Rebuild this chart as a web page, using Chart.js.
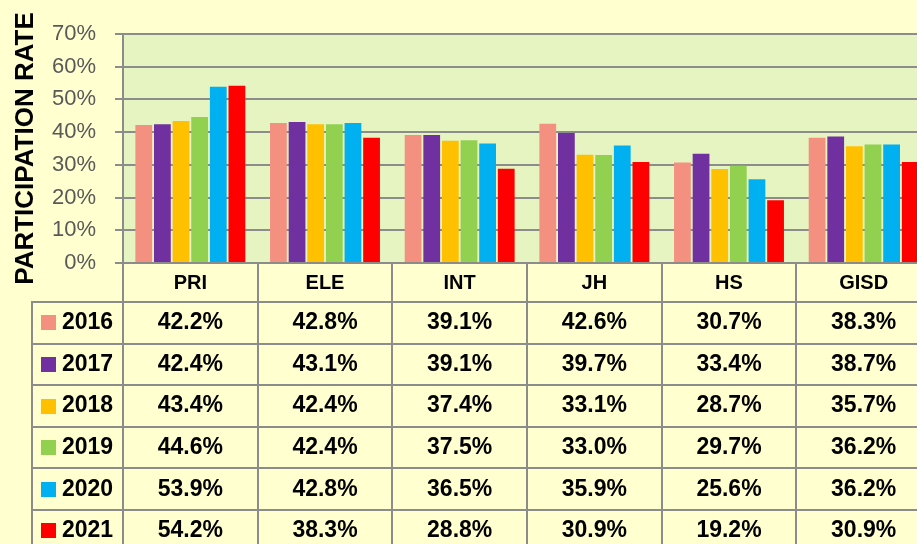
<html>
<head>
<meta charset="utf-8">
<title>Participation rate</title>
<script src="https://cdn.jsdelivr.net/npm/chart.js@4.4.1/dist/chart.umd.min.js"></script>
<style>
  body { margin: 0; overflow: hidden; background: #FFFFCF; }
</style>
</head>
<body>
<canvas id="rate_chart" width="940" height="544" style="width:940px;height:544px"></canvas>

<script>
  // chart data, percent
  var categories = ['PRI', 'ELE', 'INT', 'JH', 'HS', 'GISD']
  var years = ['2016', '2017', '2018', '2019', '2020', '2021']
  var rate_2016 = [42.2, 42.8, 39.1, 42.6, 30.7, 38.3]
  var rate_2017 = [42.4, 43.1, 39.1, 39.7, 33.4, 38.7]
  var rate_2018 = [43.4, 42.4, 37.4, 33.1, 28.7, 35.7]
  var rate_2019 = [44.6, 42.4, 37.5, 33.0, 29.7, 36.2]
  var rate_2020 = [53.9, 42.8, 36.5, 35.9, 25.6, 36.2]
  var rate_2021 = [54.2, 38.3, 28.8, 30.9, 19.2, 30.9]
  var y_ticks = [0, 10, 20, 30, 40, 50, 60, 70]

  var series = [rate_2016, rate_2017, rate_2018, rate_2019, rate_2020, rate_2021]
  var bar_colors = ['#F4907F', '#7030A0', '#FFC000', '#92D050', '#00B0F0', '#FF0000']
  var FONT = '"Liberation Sans", Arial, sans-serif'
  var GRID = '#8c8c8c'
</script>
<script>
  // plot area fill + data table under the axis
  var tablePlugin = {
    id: 'dataTable',
    beforeDraw(chart) {
      var ctx = chart.ctx, a = chart.chartArea
      ctx.save()
      ctx.fillStyle = '#E5F4C0'
      ctx.fillRect(a.left, a.top, a.right - a.left, a.bottom - a.top)
      ctx.restore()
    },
    afterDraw(chart) {
      var ctx = chart.ctx, a = chart.chartArea, x = chart.scales.x
      var cw = x.width / categories.length
      var top = a.bottom
      var head = top + 39
      var rowH = 41.6
      var legLeft = 32

      ctx.save()
      ctx.strokeStyle = GRID
      ctx.lineWidth = 2
      ctx.beginPath()
      for (var i = 0; i <= categories.length; i++) {
        var px = Math.round(x.left + cw * i)
        ctx.moveTo(px, top)
        ctx.lineTo(px, chart.height)
      }
      ctx.moveTo(legLeft, head)
      ctx.lineTo(legLeft, chart.height)
      for (var r = 0; r < years.length; r++) {
        var py = Math.round(head + rowH * r)
        ctx.moveTo(legLeft - 1, py)
        ctx.lineTo(x.right, py)
      }
      ctx.stroke()

      ctx.font = 'bold 23px ' + FONT
      ctx.textBaseline = 'middle'
      chart.data.datasets.forEach(function (ds, r) {
        var cy = head + rowH * r + rowH / 2
        ctx.fillStyle = ds.backgroundColor
        ctx.fillRect(41, Math.round(cy - 7.5), 15, 15)
        ctx.fillStyle = '#000'
        ctx.textAlign = 'left'
        ctx.fillText(ds.label, 62, cy)
        ctx.textAlign = 'center'
        ds.data.forEach(function (v, i) {
          ctx.fillText(v.toFixed(1) + '%', x.getPixelForValue(i), cy)
        })
      })
      ctx.restore()
    }
  }

  var ctx = document.getElementById('rate_chart').getContext('2d')
  var chart = new Chart(ctx, {
    type: 'bar',
    data: {
      labels: categories,
      datasets: years.map(function (y, k) {
        return {
          label: y,
          data: series[k],
          backgroundColor: bar_colors[k],
          borderWidth: 0,
          categoryPercentage: 0.83,
          barPercentage: 0.9
        }
      })
    },
    options: {
      responsive: false,
      animation: false,
      layout: { padding: { top: 34, right: 9, bottom: 242, left: 0 } },
      plugins: {
        legend: { display: false },
        tooltip: { enabled: false }
      },
      scales: {
        x: {
          grid: { display: false, drawTicks: false },
          border: { display: true, color: GRID, width: 2 },
          ticks: {
            color: '#000',
            padding: 8,
            font: { family: FONT, size: 20, weight: 'bold' }
          },
          afterFit: function (s) { s.height = 39 }
        },
        y: {
          min: 0,
          max: 70,
          afterBuildTicks: function (s) { s.ticks = y_ticks.map(function (v) { return { value: v } }) },
          grid: { color: GRID, lineWidth: 2, tickLength: 8 },
          border: { display: true, color: GRID, width: 2 },
          ticks: {
            color: '#595959',
            padding: 19,
            font: { family: FONT, size: 22 },
            callback: function (v) { return v + '%' }
          },
          title: {
            display: true,
            text: 'PARTICIPATION RATE',
            color: '#000',
            padding: { top: 10, bottom: 0 },
            font: { family: FONT, size: 26, weight: 'bold' }
          },
          afterFit: function (s) { s.width = 123 }
        }
      }
    },
    plugins: [tablePlugin]
  })
</script>
</body>
</html>
